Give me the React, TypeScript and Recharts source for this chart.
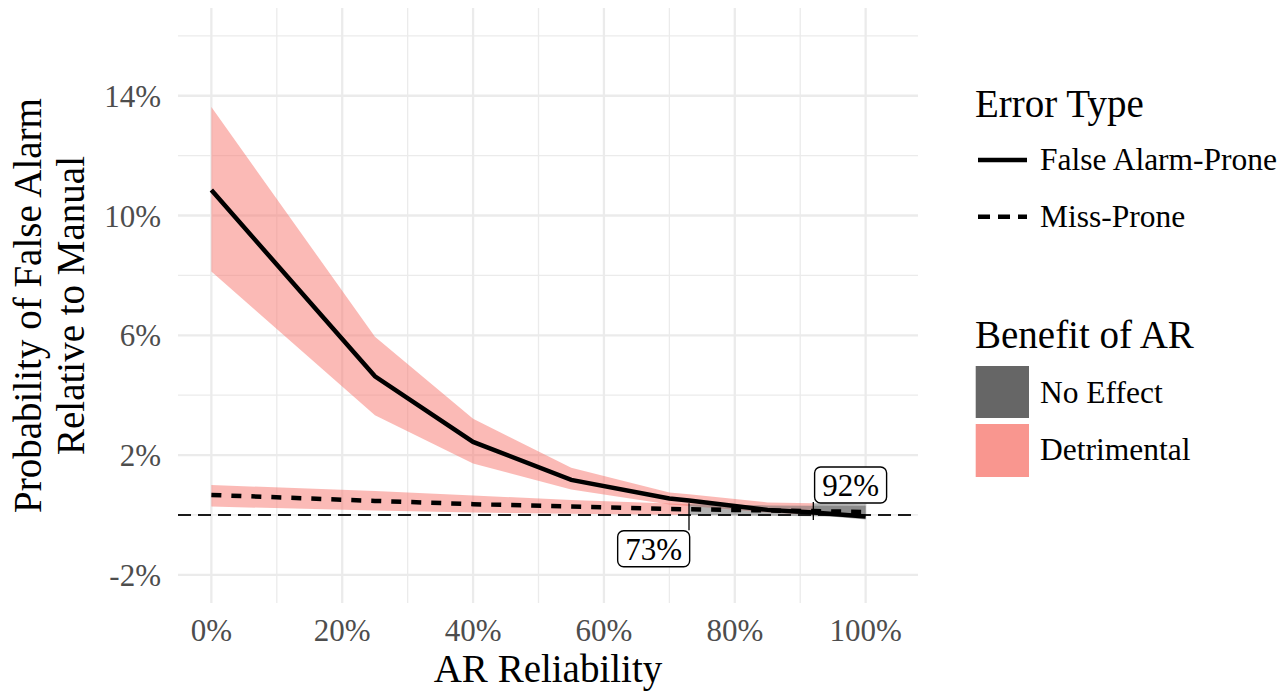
import {
  ComposedChart,
  Area,
  Line,
  XAxis,
  YAxis,
  CartesianGrid,
  ReferenceLine,
  ReferenceDot,
  Legend,
} from 'recharts';

const SERIF = "'Liberation Serif', 'Times New Roman', serif";

// AR reliability (%) at which the model estimates were taken
const reliability = [0, 25, 40, 55, 70, 73, 85, 92, 100];

// False Alarm-Prone: estimate and interval (% relative to manual)
const faMean = [10.85, 4.63, 2.44, 1.17, 0.55, 0.48, 0.17, 0.08, -0.05];
const faLow = [8.13, 3.33, 1.72, 0.85, 0.35, 0.3, 0.08, 0.0, -0.15];
const faHigh = [13.62, 5.95, 3.21, 1.58, 0.75, 0.69, 0.42, 0.39, 0.36];

// Miss-Prone: estimate and interval
const missMean = [0.67, 0.47, 0.36, 0.28, 0.2, 0.19, 0.15, 0.13, 0.1];
const missLow = [0.28, 0.15, 0.08, 0.04, 0.01, 0.0, -0.03, -0.04, -0.06];
const missHigh = [1.0, 0.8, 0.65, 0.5, 0.38, 0.36, 0.32, 0.31, 0.3];

// reliability where the interval first reaches zero
const faCross = 92;
const missCross = 73;

const xTicks = [0, 20, 40, 60, 80, 100];
const xMinor = [10, 30, 50, 70, 90];
const yTicks = [-2, 2, 6, 10, 14];
const yMinor = [0, 4, 8, 12, 16];

const rows = reliability.map((x, i) => ({
  x,
  fa: faMean[i],
  miss: missMean[i],
  faDetrimental: x <= faCross ? [faLow[i], faHigh[i]] : null,
  faNoEffect: x >= faCross ? [faLow[i], faHigh[i]] : null,
  missDetrimental: x <= missCross ? [missLow[i], missHigh[i]] : null,
  missNoEffect: x >= missCross ? [missLow[i], missHigh[i]] : null,
}));

const PINK = '#F8766D';
const GREY = '#666666';

const tickStyle = { fill: '#4D4D4D', fontSize: 31, fontFamily: SERIF };

function LabelBox({ cx, cy, text }: { cx: number; cy: number; text: string }) {
  const w = 72;
  const h = 36;
  return (
    <g>
      <rect x={cx - w / 2} y={cy - h / 2} width={w} height={h} rx={6} fill="#fff" stroke="#000" strokeWidth={1.4} />
      <text x={cx} y={cy + 11} textAnchor="middle" fontSize={31} fontFamily={SERIF} fill="#000">
        {text}
      </text>
    </g>
  );
}

function YTitle(props: any) {
  const vb = props.viewBox;
  const cy = vb.y + vb.height / 2;
  return (
    <g fontFamily={SERIF} fontSize={39} fill="#000">
      <text x={41} y={cy} textAnchor="middle" transform={`rotate(-90, 41, ${cy})`}>
        Probability of False Alarm
      </text>
      <text x={84} y={cy} textAnchor="middle" transform={`rotate(-90, 84, ${cy})`}>
        Relative to Manual
      </text>
    </g>
  );
}

function XTitle(props: any) {
  const vb = props.viewBox;
  return (
    <text x={vb.x + vb.width / 2} y={682} textAnchor="middle" fontFamily={SERIF} fontSize={39} fill="#000">
      AR Reliability
    </text>
  );
}

function LegendPanel() {
  return (
    <svg width={325} height={420} fontFamily={SERIF}>
      <text x={15} y={47} fontSize={39}>Error Type</text>
      <line x1={18} x2={67} y1={90} y2={90} stroke="#000" strokeWidth={4.5} />
      <text x={80} y={100} fontSize={31.5}>False Alarm-Prone</text>
      <line x1={18} x2={67} y1={146.7} y2={146.7} stroke="#000" strokeWidth={4.5} strokeDasharray="12 8" />
      <text x={80} y={156.7} fontSize={31.5}>Miss-Prone</text>

      <text x={15} y={278} fontSize={39}>Benefit of AR</text>
      <rect x={15.7} y={296} width={53.3} height={52} fill={GREY} />
      <text x={80} y={333} fontSize={31.5}>No Effect</text>
      <rect x={15.7} y={354} width={53.3} height={53} fill="#F9968F" />
      <text x={80} y={390} fontSize={31.5}>Detrimental</text>
    </svg>
  );
}

export default function App() {
  return (
    <div style={{ position: 'fixed', left: 0, top: 0, width: 1285, height: 692, background: '#fff' }}>
      <ComposedChart width={1285} height={692} data={rows} margin={{ top: 8, right: 367, bottom: 0, left: 0 }}>
        <CartesianGrid
          stroke="#EBEBEB"
          strokeWidth={1.3}
          horizontalValues={yMinor}
          verticalValues={xMinor}
        />
        <CartesianGrid
          stroke="#EBEBEB"
          strokeWidth={2.3}
          horizontalValues={yTicks}
          verticalValues={xTicks}
        />
        <XAxis
          type="number"
          dataKey="x"
          domain={[-5.1, 108]}
          ticks={xTicks}
          allowDataOverflow
          axisLine={false}
          tickLine={false}
          tickSize={0}
          tickMargin={16}
          height={89}
          tick={tickStyle}
          tickFormatter={(v) => `${v}%`}
          label={XTitle}
        />
        <YAxis
          type="number"
          domain={[-2.94, 16.93]}
          ticks={yTicks}
          allowDataOverflow
          axisLine={false}
          tickLine={false}
          tickSize={0}
          tickMargin={17}
          width={178}
          tick={tickStyle}
          tickFormatter={(v) => `${v}%`}
          label={YTitle}
        />

        <Area dataKey="faDetrimental" type="linear" stroke="none" fill={PINK} fillOpacity={0.5} isAnimationActive={false} activeDot={false} />
        <Area dataKey="missDetrimental" type="linear" stroke="none" fill={PINK} fillOpacity={0.5} isAnimationActive={false} activeDot={false} />
        <Area dataKey="faNoEffect" type="linear" stroke="none" fill={GREY} fillOpacity={0.5} isAnimationActive={false} activeDot={false} />
        <Area dataKey="missNoEffect" type="linear" stroke="none" fill={GREY} fillOpacity={0.5} isAnimationActive={false} activeDot={false} />

        <ReferenceLine y={0} stroke="#1A1A1A" strokeWidth={2} strokeDasharray="13 7" />

        <Line dataKey="fa" type="linear" stroke="#000" strokeWidth={4.5} dot={false} activeDot={false} isAnimationActive={false} />
        <Line
          dataKey="miss"
          type="linear"
          stroke="#000"
          strokeWidth={4.5}
          strokeDasharray="10 10"
          dot={false}
          activeDot={false}
          isAnimationActive={false}
        />

        <ReferenceLine segment={[{ x: missCross, y: 0.39 }, { x: missCross, y: -0.51 }]} stroke="#000" strokeWidth={1.3} />
        <ReferenceLine segment={[{ x: faCross, y: 0.43 }, { x: faCross, y: -0.17 }]} stroke="#000" strokeWidth={1.3} />
        <ReferenceDot
          x={67.6}
          y={-1.13}
          r={0}
          shape={(p: any) => <LabelBox cx={p.cx} cy={p.cy} text={`${missCross}%`} />}
        />
        <ReferenceDot
          x={97.7}
          y={1.0}
          r={0}
          shape={(p: any) => <LabelBox cx={p.cx} cy={p.cy} text={`${faCross}%`} />}
        />

        <Legend
          layout="horizontal"
          align="center"
          verticalAlign="middle"
          wrapperStyle={{ left: 960, top: 70, width: 325, height: 420 }}
          content={() => <LegendPanel />}
        />
      </ComposedChart>
    </div>
  );
}
